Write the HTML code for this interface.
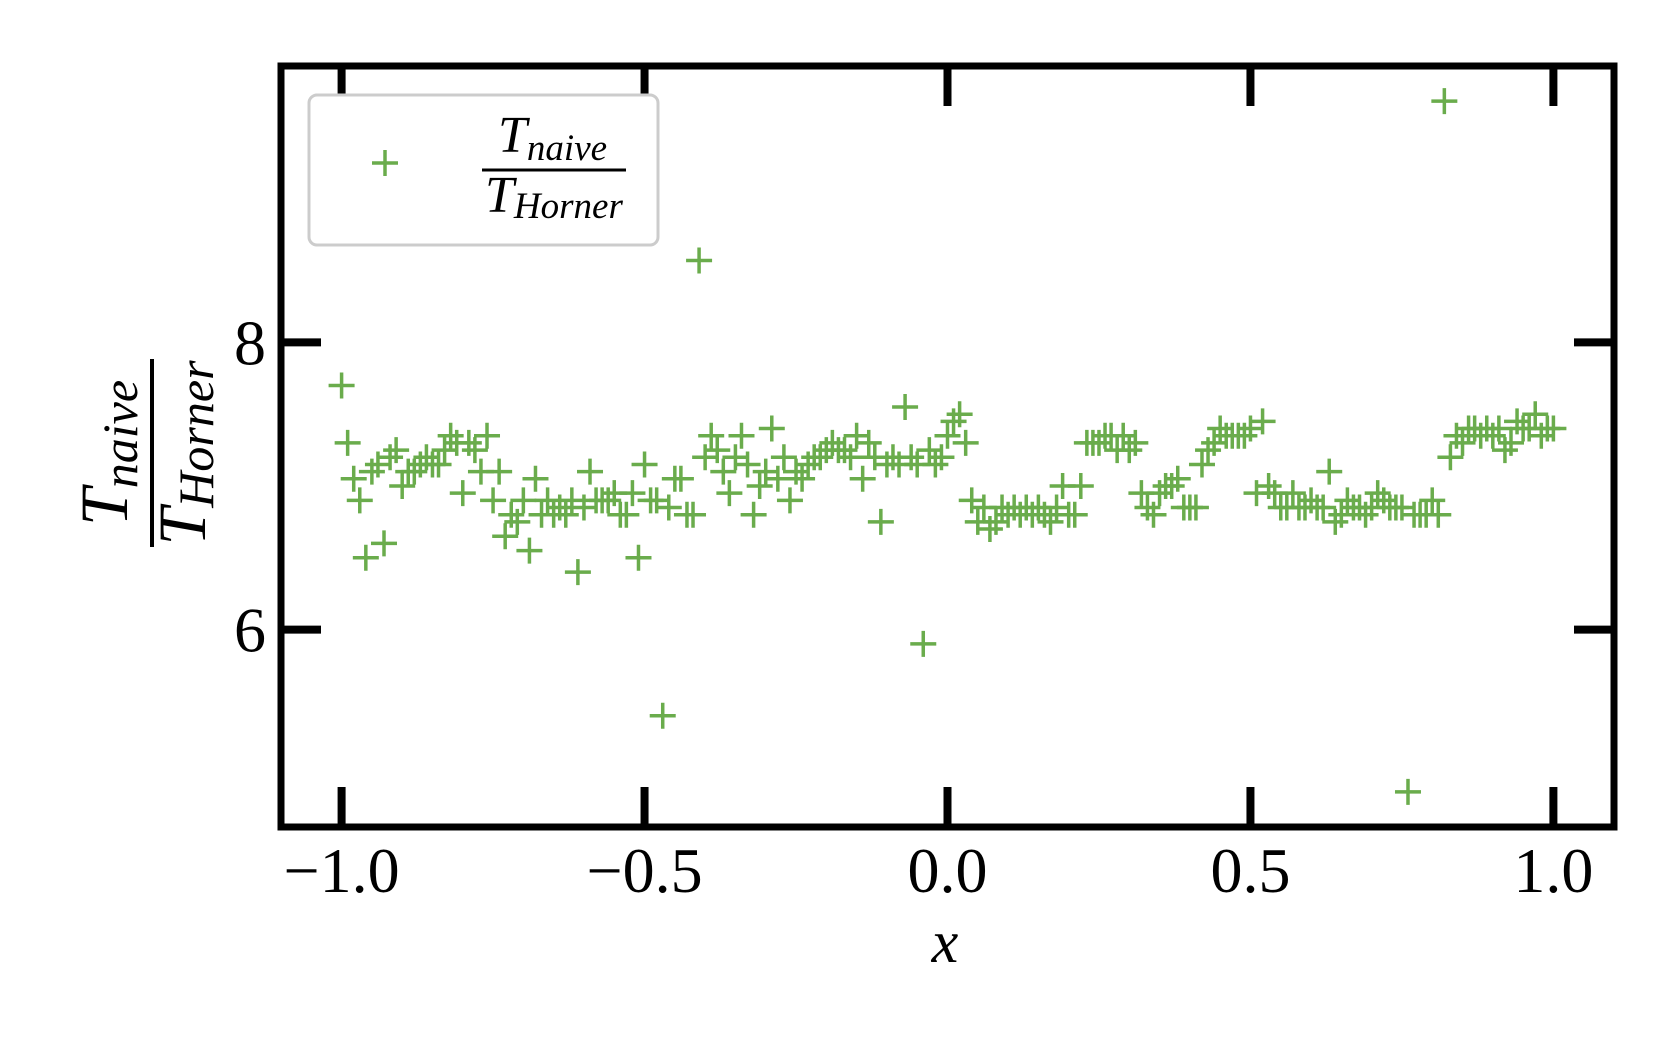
<!DOCTYPE html>
<html><head><meta charset="utf-8"><style>
html,body{margin:0;padding:0;background:#fff;}
svg{display:block;font-family:"Liberation Serif",serif;}
</style></head><body>
<svg id="chart" width="1680" height="1050" viewBox="0 0 1680 1050" xmlns="http://www.w3.org/2000/svg">
<g id="marks"></g>
<rect x="281" y="66" width="1333" height="761" fill="none" stroke="#000" stroke-width="7"/>
<g id="ticks"></g>
<g>
<rect x="309" y="95" width="349" height="150" rx="8" fill="#fff" stroke="#ccc" stroke-width="3"/>
<g stroke="#6aac4c" stroke-width="3.5"><line x1="372" y1="163" x2="398" y2="163"/><line x1="385" y1="150" x2="385" y2="176"/></g>
<text x="498" y="152" font-size="52" font-style="italic">T<tspan font-size="37" dy="8">naive</tspan></text>
<line x1="482" y1="170" x2="626" y2="170" stroke="#000" stroke-width="3"/>
<text x="485" y="212" font-size="52" font-style="italic">T<tspan font-size="37" dy="6">Horner</tspan></text>
</g>
<g transform="translate(152,453) rotate(-90)">
<text x="0" y="-25" text-anchor="middle" font-size="68" font-style="italic">T<tspan font-size="50" dy="10">naive</tspan></text>
<line x1="-94" y1="0" x2="94" y2="0" stroke="#000" stroke-width="4"/>
<text x="0" y="53" text-anchor="middle" font-size="68" font-style="italic">T<tspan font-size="50" dy="8">Horner</tspan></text>
</g>
<text x="945" y="962" text-anchor="middle" font-size="60" font-style="italic">x</text>
</svg>
<script>
const xTicks = [-1.0, -0.5, 0.0, 0.5, 1.0];
const xTickLabels = ["\u22121.0", "\u22120.5", "0.0", "0.5", "1.0"];
const yTicks = [6, 8];
const yTickLabels = ["6", "8"];
const yValues = [7.7,7.3,7.05,6.9,6.5,7.1,7.15,6.6,7.2,7.25,7.0,7.1,7.1,7.15,7.2,7.15,7.15,7.25,7.35,7.3,6.95,7.3,7.25,7.1,7.35,6.9,7.1,6.65,6.8,6.75,6.9,6.55,7.05,6.8,6.9,6.8,6.85,6.8,6.9,6.4,6.85,7.1,6.9,6.9,6.9,6.95,6.8,6.8,6.95,6.5,7.15,6.9,6.9,5.4,6.85,7.05,7.05,6.8,6.8,8.57,7.2,7.35,7.25,7.1,6.95,7.2,7.35,7.15,6.8,7.0,7.1,7.4,7.05,7.2,6.9,7.1,7.05,7.15,7.2,7.2,7.25,7.3,7.25,7.25,7.2,7.35,7.05,7.3,7.2,6.75,7.15,7.2,7.15,7.55,7.2,7.15,5.9,7.25,7.15,7.2,7.35,7.45,7.5,7.3,6.9,6.75,6.85,6.7,6.75,6.85,6.8,6.85,6.8,6.85,6.8,6.85,6.8,6.75,6.85,7.0,6.8,6.8,7.0,7.3,7.3,7.3,7.35,7.35,7.25,7.35,7.25,7.3,6.95,6.85,6.8,6.95,7.0,7.0,7.05,6.85,6.85,6.85,7.15,7.25,7.3,7.4,7.35,7.35,7.35,7.35,7.4,6.95,7.45,7.0,6.95,6.85,6.85,6.95,6.85,6.85,6.9,6.85,6.85,7.1,6.75,6.8,6.9,6.85,6.85,6.8,6.85,6.95,6.9,6.85,6.85,6.85,4.87,6.8,6.8,6.8,6.9,6.8,9.68,7.2,7.35,7.3,7.4,7.4,7.35,7.4,7.35,7.4,7.25,7.3,7.45,7.4,7.4,7.5,7.35,7.4,7.4];
const xStart = -1.0, xStep = 0.01;
const NS = "http://www.w3.org/2000/svg";
const X0 = 281, X1 = 1614, Y0 = 827, Y1 = 66;
const xMin = -1.1, xMax = 1.1, yMin = 4.625, yMax = 9.925;
function xScale(v){ return X0 + (v - xMin) / (xMax - xMin) * (X1 - X0); }
function yScale(v){ return Y0 - (v - yMin) / (yMax - yMin) * (Y0 - Y1); }
const marks = document.getElementById('marks');
yValues.forEach((v, i) => {
  const cx = xScale(xStart + i * xStep), cy = yScale(v);
  const g = document.createElementNS(NS, 'path');
  g.setAttribute('d', `M${cx-13},${cy}H${cx+13}M${cx},${cy-13}V${cy+13}`);
  g.setAttribute('stroke', '#6aac4c');
  g.setAttribute('stroke-width', '3.5');
  
  
  marks.appendChild(g);
});
const ticks = document.getElementById('ticks');
function addLine(x1, y1, x2, y2){
  const l = document.createElementNS(NS, 'line');
  l.setAttribute('x1', x1); l.setAttribute('y1', y1);
  l.setAttribute('x2', x2); l.setAttribute('y2', y2);
  l.setAttribute('stroke', '#000'); l.setAttribute('stroke-width', '8');
  
  
  ticks.appendChild(l);
}
function addText(x, y, s, anchor){
  const t = document.createElementNS(NS, 'text');
  t.setAttribute('x', x); t.setAttribute('y', y);
  t.setAttribute('text-anchor', anchor);
  t.setAttribute('font-size', '64');
  t.textContent = s;
  
  
  ticks.appendChild(t);
}
xTicks.forEach((v, i) => {
  const x = xScale(v);
  addLine(x, Y0, x, Y0 - 40);
  addLine(x, Y1, x, Y1 + 40);
  addText(x, 892, xTickLabels[i], 'middle');
});
yTicks.forEach((v, i) => {
  const y = yScale(v);
  addLine(X0, y, X0 + 40, y);
  addLine(X1, y, X1 - 40, y);
  addText(266, y + 22, yTickLabels[i], 'end');
});
</script>
</body></html>
